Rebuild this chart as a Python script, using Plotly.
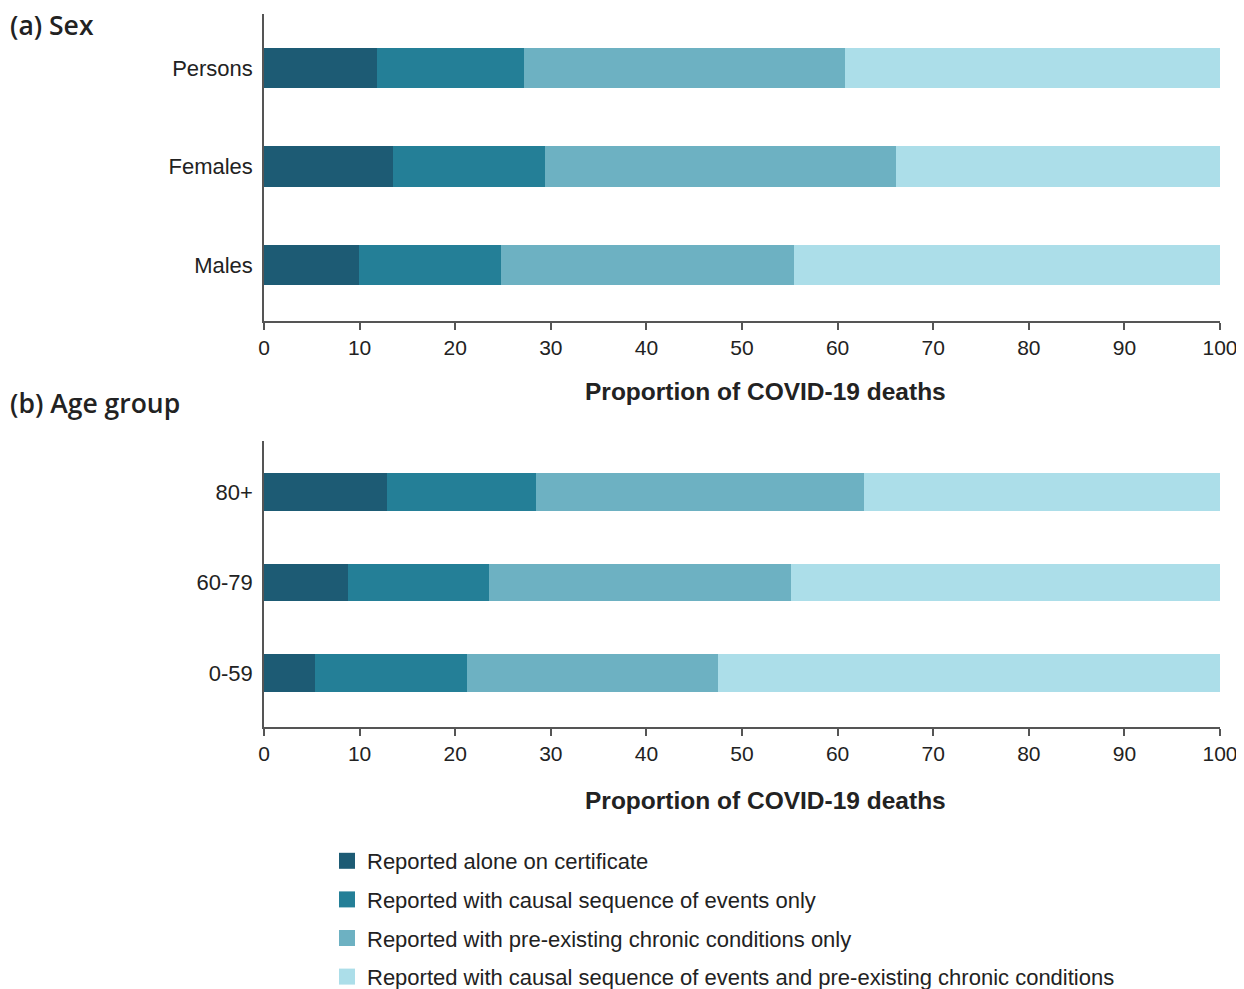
import plotly.graph_objects as go

sex_cats = ["Males", "Females", "Persons"]
age_cats = ["0-59", "60-79", "80+"]

series_names = [
    "Reported alone on certificate",
    "Reported with causal sequence of events only",
    "Reported with pre-existing chronic conditions only",
    "Reported with causal sequence of events and pre-existing chronic conditions",
]
colors = ["#1d5b74", "#247f97", "#6db1c2", "#acdee9"]

# values ordered as sex_cats: Males, Females, Persons
sex_alone = [9.9, 13.5, 11.8]
sex_causal = [14.9, 15.9, 15.4]
sex_chronic = [30.6, 36.7, 33.6]
sex_both = [44.6, 33.9, 39.2]

# values ordered as age_cats: 0-59, 60-79, 80+
age_alone = [5.3, 8.8, 12.9]
age_causal = [15.9, 14.7, 15.5]
age_chronic = [26.3, 31.6, 34.4]
age_both = [52.5, 44.9, 37.2]

x_ticks = [0, 10, 20, 30, 40, 50, 60, 70, 80, 90, 100]
x_title = "Proportion of COVID-19 deaths"

sex_series = [sex_alone, sex_causal, sex_chronic, sex_both]
age_series = [age_alone, age_causal, age_chronic, age_both]

fig = go.Figure()
for i, name in enumerate(series_names):
    fig.add_trace(go.Bar(
        x=sex_series[i], y=sex_cats, orientation="h", name=name,
        marker=dict(color=colors[i], line=dict(width=0)),
        xaxis="x", yaxis="y", showlegend=False,
    ))
for i, name in enumerate(series_names):
    fig.add_trace(go.Bar(
        x=age_series[i], y=age_cats, orientation="h", name=name,
        marker=dict(color=colors[i], line=dict(width=0)),
        xaxis="x2", yaxis="y2", showlegend=False,
    ))
# legend entries with larger square swatches
for i, name in enumerate(series_names):
    fig.add_trace(go.Scatter(
        x=[None], y=[None], mode="markers", name=name,
        marker=dict(symbol="square", size=16, color=colors[i], line=dict(width=0)),
        xaxis="x2", yaxis="y2", showlegend=True, legendgroup=name,
    ))

# page body adds an 8px offset; figure sized to fit the window
OFF = 8
W, H = 1244 - OFF, 989 - OFF
def px_x(p):
    return (p - OFF) / W
def px_y(p):
    return 1 - (p - OFF) / H

tick_font = dict(family="Liberation Sans, Arial, sans-serif", size=21, color="#222222")
ytick_font = dict(family="Liberation Sans, Arial, sans-serif", size=22, color="#222222")
title_font = dict(family="Liberation Sans, Arial, sans-serif", size=24.5, color="#222222", weight="bold")
head_font = dict(family="Open Sans, sans-serif", size=26.5, color="#222222", weight=600)

xcommon = dict(
    range=[0, 100], tickvals=x_ticks, showgrid=False, zeroline=False,
    showline=True, linecolor="#555555", linewidth=1.5,
    ticks="outside", ticklen=7, tickcolor="#555555", tickwidth=1.5,
    tickfont=tick_font, fixedrange=True, automargin=False,
)
ycommon = dict(
    showgrid=False, zeroline=False, showline=True, linecolor="#555555", linewidth=1.5,
    ticks="", tickfont=ytick_font, ticklabelstandoff=5, fixedrange=True,
    automargin=False, type="category",
)

fig.update_layout(
    width=W, height=H,
    margin=dict(l=0, r=0, t=0, b=0, autoexpand=False),
    paper_bgcolor="white", plot_bgcolor="white",
    barmode="stack", bargap=0.59,
    xaxis=dict(domain=[px_x(264), px_x(1220)], anchor="y", **xcommon),
    yaxis=dict(domain=[px_y(321), px_y(14)], anchor="x", range=[-0.569, 2.548],
               categoryorder="array", categoryarray=sex_cats, **ycommon),
    xaxis2=dict(domain=[px_x(264), px_x(1220)], anchor="y2", **xcommon),
    yaxis2=dict(domain=[px_y(727), px_y(441)], anchor="x2", range=[-0.597, 2.564],
                categoryorder="array", categoryarray=age_cats, **ycommon),
    legend=dict(
        x=px_x(327), y=px_y(840), xanchor="left", yanchor="top",
        orientation="v", traceorder="grouped",
        font=dict(family="Liberation Sans, Arial, sans-serif", size=22, color="#222222"),
        bgcolor="rgba(0,0,0,0)", tracegroupgap=7, itemwidth=30,
    ),
    annotations=[
        dict(text="(a) Sex", x=px_x(8), y=px_y(25), xref="paper", yref="paper",
             xanchor="left", yanchor="middle", showarrow=False, font=head_font),
        dict(text="(b) Age group", x=px_x(8), y=px_y(403), xref="paper", yref="paper",
             xanchor="left", yanchor="middle", showarrow=False, font=head_font),
        dict(text=x_title, x=px_x(765), y=px_y(391), xref="paper", yref="paper",
             xanchor="center", yanchor="middle", showarrow=False, font=title_font),
        dict(text=x_title, x=px_x(765), y=px_y(800), xref="paper", yref="paper",
             xanchor="center", yanchor="middle", showarrow=False, font=title_font),
    ],
)

fig.write_html("out.html")
